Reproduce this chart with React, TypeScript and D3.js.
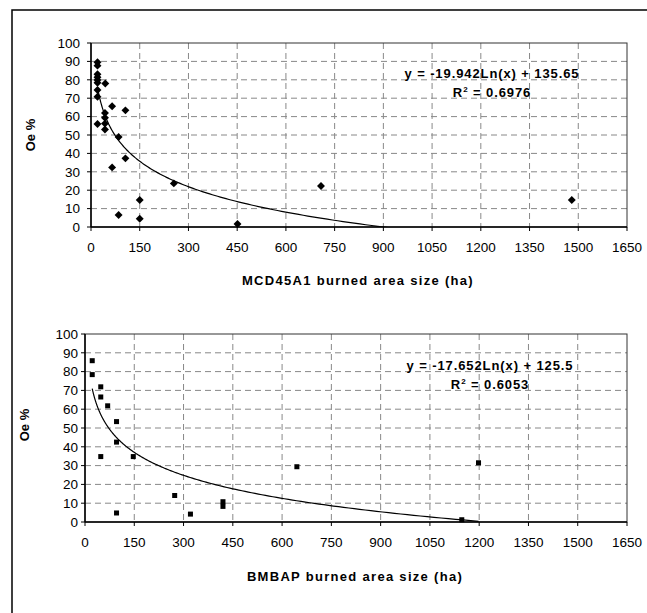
import React from "react";
import * as d3 from "d3";

const xTicks = [0, 150, 300, 450, 600, 750, 900, 1050, 1200, 1350, 1500, 1650];
const yTicks = [0, 10, 20, 30, 40, 50, 60, 70, 80, 90, 100];

const mcdX = [20, 20, 20, 20, 20, 20, 20, 20, 20, 44, 43, 43, 43, 43, 65, 65, 106, 106, 85, 85, 150, 150, 255, 451, 708, 1480];
const mcdY = [89.5, 87.7, 83, 81.4, 79.9, 78.4, 74.5, 70.8, 56, 78, 62, 59.4, 56.2, 53, 65.6, 32.4, 63.4, 37.3, 48.9, 6.5, 14.7, 4.5, 23.7, 1.6, 22.3, 14.7];

const bmX = [22, 22, 48, 48, 48, 69, 96, 96, 96, 147, 273, 321, 420, 420, 645, 1198, 1147];
const bmY = [85.8, 78.4, 71.9, 66.5, 34.8, 61.8, 53.4, 42.5, 4.8, 34.8, 14.1, 4.2, 10.8, 8.3, 29.4, 31.5, 1.2];

const mcdFit = { a: -19.942, b: 135.65, r2: "0.6976" };
const bmFit = { a: -17.652, b: 125.5, r2: "0.6053" };

type PanelProps = {
  left: number; top: number; right: number; bottom: number;
  xs: number[]; ys: number[]; fit: { a: number; b: number; r2: string };
  marker: "diamond" | "square"; title: string; eqX: number; eqY: number;
  ylabX: number; ylabY: number; titleY: number; id: string; ytOff: number; xtOff: number;
};

const FONT = "Liberation Sans, Arial, sans-serif";

function Panel(p: PanelProps) {
  const x = d3.scaleLinear().domain([0, 1650]).range([p.left, p.right]);
  const y = d3.scaleLinear().domain([0, 100]).range([p.bottom, p.top]);
  const xmin = d3.min(p.xs) as number;
  const xmax = d3.max(p.xs) as number;
  const pts = d3.range(0, 201).map((i) => {
    const v = xmin * Math.pow(xmax / xmin, i / 200);
    return [v, p.fit.a * Math.log(v) + p.fit.b] as [number, number];
  });
  const line = d3.line<[number, number]>().x((d) => x(d[0])).y((d) => y(d[1]));
  const sym = d3.symbol().type(p.marker === "diamond" ? d3.symbolDiamond2 : d3.symbolSquare2).size(p.marker === "diamond" ? 40 : 32);
  const symPath = sym() as string;
  return (
    <g>
      <defs>
        <clipPath id={p.id}>
          <rect x={p.left} y={p.top} width={p.right - p.left} height={p.bottom - p.top} />
        </clipPath>
      </defs>
      {yTicks.slice(1, -1).map((t) => (
        <line key={"gy" + t} x1={p.left} x2={p.right} y1={y(t)} y2={y(t)} stroke="#888" strokeWidth={1} strokeDasharray="6,4" />
      ))}
      {xTicks.slice(1, -1).map((t) => (
        <line key={"gx" + t} x1={x(t)} x2={x(t)} y1={p.top} y2={p.bottom} stroke="#888" strokeWidth={1} strokeDasharray="6,4" />
      ))}
      <rect x={p.left} y={p.top} width={p.right - p.left} height={p.bottom - p.top} fill="none" stroke="#333" strokeWidth={1} />
      <line x1={p.left} x2={p.left} y1={p.top} y2={p.bottom} stroke="#000" strokeWidth={1.5} />
      <line x1={p.left} x2={p.right} y1={p.bottom} y2={p.bottom} stroke="#000" strokeWidth={1.5} />
      {yTicks.map((t) => (
        <g key={"ty" + t}>
          <line x1={p.left - 4} x2={p.left} y1={y(t)} y2={y(t)} stroke="#000" />
          <text x={p.left - p.ytOff} y={y(t)} dy="0.36em" textAnchor="end" fontSize={13.5} fontFamily={FONT} fill="#000">{t}</text>
        </g>
      ))}
      {xTicks.map((t) => (
        <g key={"tx" + t}>
          <line x1={x(t)} x2={x(t)} y1={p.bottom} y2={p.bottom + 4} stroke="#000" />
          <text x={x(t)} y={p.bottom + p.xtOff} textAnchor="middle" fontSize={13.5} fontFamily={FONT} fill="#000">{t}</text>
        </g>
      ))}
      <path d={line(pts) as string} fill="none" stroke="#000" strokeWidth={1.2} clipPath={`url(#${p.id})`} />
      {p.xs.map((v, i) => (
        <path key={"m" + i} d={symPath} transform={`translate(${x(v)},${y(p.ys[i])})`} fill="#000" />
      ))}
      <text x={p.eqX} y={p.eqY} textAnchor="middle" fontSize={13} fontWeight="bold" fontFamily={FONT} fill="#000" letterSpacing={0.9}>
        {`y = ${p.fit.a}Ln(x) + ${p.fit.b}`}
      </text>
      <text x={p.eqX} y={p.eqY + 19} textAnchor="middle" fontSize={13} fontWeight="bold" fontFamily={FONT} fill="#000" letterSpacing={0.9}>
        R<tspan dy={-5} fontSize={8}>2</tspan><tspan dy={5}>{` = ${p.fit.r2}`}</tspan>
      </text>
      <text transform={`translate(${p.ylabX},${p.ylabY}) rotate(-90)`} textAnchor="middle" fontSize={13} fontWeight="bold" fontFamily={FONT} fill="#000">Oe %</text>
      <text x={(p.left + p.right) / 2 - 1} y={p.titleY} textAnchor="middle" fontSize={13} fontWeight="bold" fontFamily={FONT} fill="#000" letterSpacing={1.3}>{p.title}</text>
    </g>
  );
}

export default function App() {
  return (
    <svg width={647} height={613} style={{ position: "absolute", left: 0, top: 0, background: "#fff" }}>
      <rect x={0} y={0} width={647} height={613} fill="#fff" />
      <rect x={12} y={10} width={660} height={640} fill="none" stroke="#000" strokeWidth={1.5} />
      <Panel id="c1" left={91} top={43} right={627} bottom={227} xs={mcdX} ys={mcdY} fit={mcdFit}
        marker="diamond" title="MCD45A1 burned area size (ha)" eqX={492} eqY={78} ylabX={35} ylabY={135} titleY={285}
        ytOff={11} xtOff={25} />
      <Panel id="c2" left={85} top={334} right={627} bottom={522} xs={bmX} ys={bmY} fit={bmFit}
        marker="square" title="BMBAP burned area size (ha)" eqX={490} eqY={370} ylabX={29} ylabY={425} titleY={581}
        ytOff={7} xtOff={25} />
    </svg>
  );
}
